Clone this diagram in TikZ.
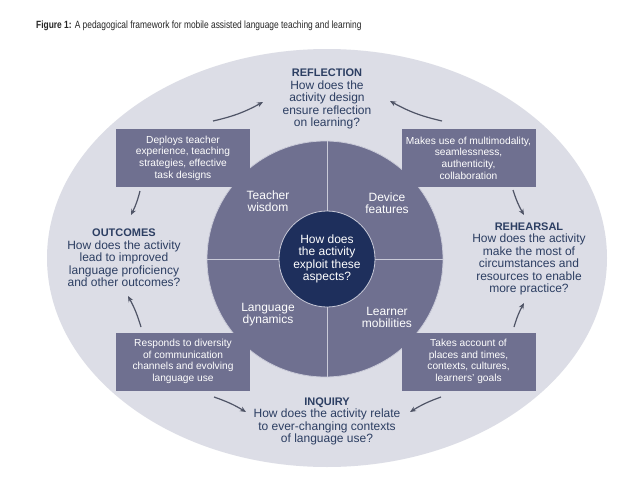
\documentclass[tikz,border=0pt]{standalone}
\usepackage{fontspec}
\setmainfont{Liberation Sans}
\usetikzlibrary{arrows.meta}
\definecolor{bgell}{HTML}{DCDDE6}
\definecolor{slate}{HTML}{6F7090}
\definecolor{navy}{HTML}{1E2F5C}
\definecolor{headtxt}{HTML}{2C3E62}
\definecolor{divline}{HTML}{C9CAD8}
\definecolor{arrowc}{HTML}{4F5466}
\tikzset{
  infobox/.style={fill=slate, text=white, minimum width=134pt, minimum height=58pt,
    inner sep=0pt, align=center, font=\fontsize{10.2}{11.6}\selectfont},
  question/.style={text=headtxt, align=center, inner sep=0pt, font=\fontsize{12}{12.5}\selectfont},
  ringlabel/.style={text=white, align=center, inner sep=0pt, font=\fontsize{12}{12}\selectfont},
  flow/.style={draw=arrowc, line width=1.2pt, -{Stealth[length=6pt,width=5pt]}}
}
\newcommand{\headword}[1]{{\fontsize{11}{12.5}\selectfont\textbf{#1}}}
\begin{document}
\begin{tikzpicture}[x=1pt,y=-1pt]
\fill[white] (0,0) rectangle (638,479);
\useasboundingbox (0,0) rectangle (638,479);
% title
\node[anchor=west, inner sep=0pt, text=black!85] (title) at (36,26)
  {\scalebox{0.8}[1]{\fontsize{10.5}{12}\selectfont\textbf{Figure 1:} A pedagogical framework for mobile assisted language teaching and learning}};
% ellipse
\fill[bgell] (327,258) ellipse [x radius=280, y radius=209];
% ring
\node[circle, fill=slate, draw=divline, line width=0.8pt, minimum size=236pt, inner sep=0pt] (ring) at (325,259) {};
\draw[divline, line width=1pt] (ring.north -| 327,0) -- (ring.south -| 327,0);
\draw[divline, line width=1pt] (ring.west) -- (ring.east);
\node[circle, fill=navy, draw=divline, line width=0.8pt, minimum size=96pt, inner sep=0pt, text=white, align=center,
  font=\fontsize{12}{12.4}\selectfont] (core) at (327,259) {How does\\the activity\\exploit these\\aspects?};
\node[ringlabel] (tw) at (268,201) {Teacher\\wisdom};
\node[ringlabel] (df) at (387,203) {Device\\features};
\node[ringlabel] (ld) at (268,315) {Language\\dynamics};
\node[ringlabel] (lm) at (387,317) {Learner\\mobilities};
% boxes
\node[infobox] (b1) at (183,158) {Deploys teacher\\experience, teaching\\strategies, effective\\task designs};
\node[infobox] (b2) at (468.5,158) {Makes use of multimodality,\\seamlessness,\\authenticity,\\collaboration};
\node[infobox] (b3) at (183,361.5) {Responds to diversity\\of communication\\channels and evolving\\language use};
\node[infobox] (b4) at (468.5,361.5) {Takes account of\\places and times,\\contexts, cultures,\\learners' goals};
% questions
\node[question] (refl) at (327,99) {\headword{REFLECTION}\\How does the\\activity design\\ensure reflection\\on learning?};
\node[question] (outc) at (124,258) {\headword{OUTCOMES}\\How does the activity\\lead to improved\\language proficiency\\and other outcomes?};
\node[question] (rehe) at (529,259) {\headword{REHEARSAL}\\How does the activity\\make the most of\\circumstances and\\resources to enable\\more practice?};
\node[question] (inq) at (327,421.5) {\headword{INQUIRY}\\How does the activity relate\\to ever-changing contexts\\of language use?};
% arrow ends
\coordinate (s1) at (213,121); \coordinate (e1) at (263,102);
\coordinate (s2) at (442,121); \coordinate (e2) at (390,101);
\coordinate (s3) at (513,190); \coordinate (e3) at (524,215);
\coordinate (s4) at (140,191); \coordinate (e4) at (131,215);
\coordinate (s5) at (141,327); \coordinate (e5) at (128,296);
\coordinate (s6) at (214,397); \coordinate (e6) at (246,412);
\coordinate (s7) at (441,397); \coordinate (e7) at (410,412);
\coordinate (s8) at (514,327); \coordinate (e8) at (524,303);
\draw[flow] (s1) to[bend right=8] (e1);
\draw[flow] (s2) to[bend left=8] (e2);
\draw[flow] (s3) to[bend right=6] (e3);
\draw[flow] (s4) to[bend left=6] (e4);
\draw[flow] (s5) to[bend right=6] (e5);
\draw[flow] (s6) to[bend left=6] (e6);
\draw[flow] (s7) to[bend right=6] (e7);
\draw[flow] (s8) to[bend left=6] (e8);
\end{tikzpicture}
\end{document}
